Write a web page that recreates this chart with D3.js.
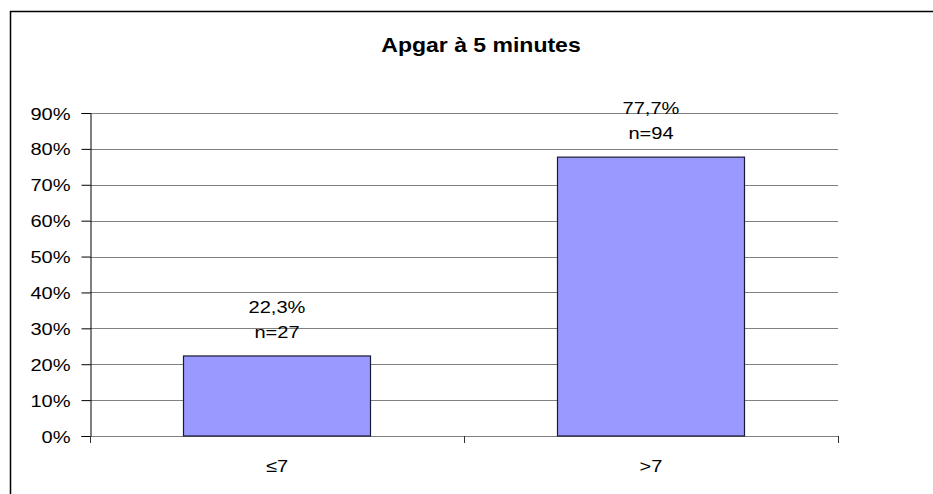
<!DOCTYPE html>
<html>
<head>
<meta charset="utf-8">
<script src="https://cdnjs.cloudflare.com/ajax/libs/d3/7.8.5/d3.min.js"></script>
<style>
    body { margin: 0; background: #fff; }
    text { font-family: "Liberation Sans", Arial, sans-serif; fill: #000; }
</style>
</head>
<body>
<script>
    // chart data
    var categories = ["≤7", ">7"];
    var percents = [22.3, 77.7];
    var percentLabels = ["22,3%", "77,7%"];
    var countLabels = ["n=27", "n=94"];
    var yTicks = [0, 10, 20, 30, 40, 50, 60, 70, 80, 90];

    var W = 933, H = 494;
    var plot = {left: 90, right: 838, top: 113, bottom: 436};
    var stretch = 1.18;   // text in the original looks horizontally widened

    var svg = d3.select("body").append("svg")
        .attr("width", W)
        .attr("height", H);

    // place a widened text at (x, y)
    function wideText(g, x, y, anchor) {
        return g.append("text")
            .attr("transform", "translate(" + x + "," + y + ") scale(" + stretch + ",1)")
            .attr("text-anchor", anchor || "middle")
            .style("font-size", "17px");
    }

    // outer frame (runs off the right and bottom edges)
    svg.append("rect")
        .attr("x", 10.5).attr("y", 11.5)
        .attr("width", W + 10).attr("height", H + 10)
        .attr("fill", "none")
        .attr("stroke", "#000")
        .attr("stroke-width", 1.5);

    wideText(svg, 481, 52)
        .style("font-size", "19.5px")
        .style("font-weight", "bold")
        .text("Apgar à 5 minutes");

    var x = d3.scaleBand()
        .domain(categories)
        .range([plot.left, plot.right])
        .paddingInner(0.5)
        .paddingOuter(0.25);

    var y = d3.scaleLinear()
        .domain([0, 90])
        .range([plot.bottom, plot.top]);

    // gridlines
    svg.append("g")
        .selectAll("line")
        .data(yTicks)
        .enter().append("line")
        .attr("x1", plot.left).attr("x2", plot.right)
        .attr("y1", d => Math.round(y(d)) + 0.5)
        .attr("y2", d => Math.round(y(d)) + 0.5)
        .attr("stroke", "#808080")
        .attr("stroke-width", 1.2);

    // y axis
    var yAxis = d3.axisLeft(y)
        .tickValues(yTicks)
        .tickFormat("")
        .tickSize(9);
    var gy = svg.append("g")
        .attr("transform", "translate(" + (plot.left + 0.5) + ",0)")
        .call(yAxis);
    gy.select(".domain").attr("stroke", "#000");
    gy.selectAll(".tick line").attr("stroke", "#000");
    gy.selectAll(".tick").each(function (d) {
        wideText(d3.select(this), -20, 6, "end").text(d + "%");
    });

    // x axis: ticks at category boundaries
    var bounds = [plot.left, (plot.left + plot.right) / 2, plot.right];
    svg.append("g")
        .selectAll("line")
        .data(bounds)
        .enter().append("line")
        .attr("x1", d => Math.round(d) + 0.5)
        .attr("x2", d => Math.round(d) + 0.5)
        .attr("y1", plot.bottom)
        .attr("y2", plot.bottom + 7)
        .attr("stroke", "#333");

    var gx = svg.append("g");
    categories.forEach(function (c) {
        wideText(gx, x(c) + x.bandwidth() / 2, 472).text(c);
    });

    // bars
    svg.append("g")
        .selectAll("rect")
        .data(percents)
        .enter().append("rect")
        .attr("x", (d, i) => x(categories[i]))
        .attr("y", d => y(d))
        .attr("width", x.bandwidth())
        .attr("height", d => y(0) - y(d))
        .attr("fill", "#9999ff")
        .attr("stroke", "#1a1a33")
        .attr("stroke-width", 1.2);

    // value labels
    var lbl = svg.append("g");
    percents.forEach(function (d, i) {
        var cx = x(categories[i]) + x.bandwidth() / 2;
        wideText(lbl, cx, y(d) - 43).text(percentLabels[i]);
        wideText(lbl, cx, y(d) - 18).text(countLabels[i]);
    });
</script>
</body>
</html>
